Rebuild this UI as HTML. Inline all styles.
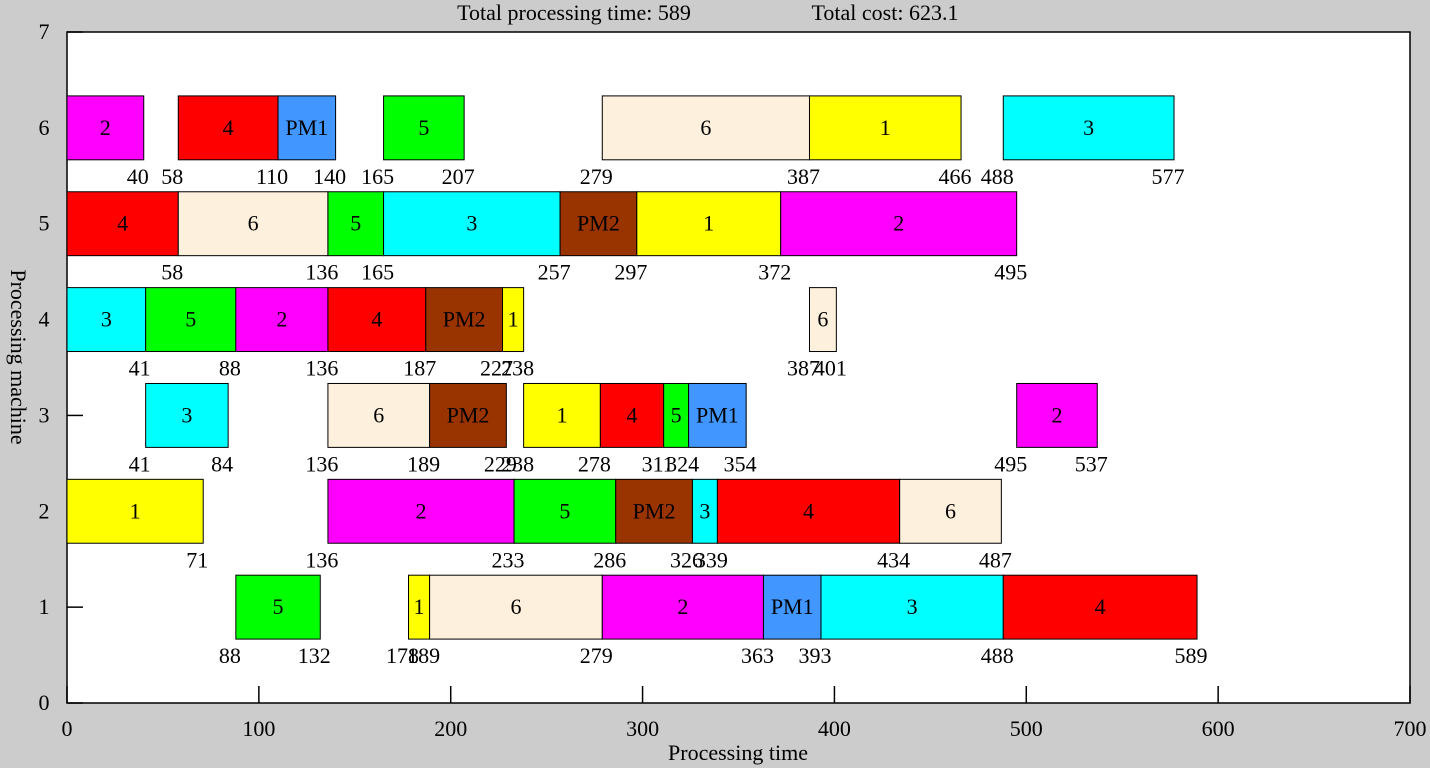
<!DOCTYPE html>
<html><head><meta charset="utf-8"><style>
body{margin:0;background:#cccccc;width:1430px;height:768px;overflow:hidden}
svg{display:block;font-family:"Liberation Serif",serif}
</style></head><body>
<svg id="chart" width="1430" height="768" xmlns="http://www.w3.org/2000/svg">
<rect x="0" y="0" width="1430" height="768" fill="#cccccc"/>
<rect x="67" y="32" width="1343" height="671" fill="#ffffff" stroke="#000" stroke-width="1.5"/>
<text x="574" y="20" font-size="22" text-anchor="middle">Total processing time: 589</text>
<text x="885" y="20" font-size="22" text-anchor="middle">Total cost: 623.1</text>
<text x="738" y="760" font-size="22" text-anchor="middle">Processing time</text>
<text x="0" y="0" font-size="22" text-anchor="middle" transform="translate(11,357) rotate(90)">Processing machine</text>
<g id="marks"></g>
</svg>
<script>
const machines = [6,6,6,6,6,6,6, 5,5,5,5,5,5,5, 4,4,4,4,4,4,4, 3,3,3,3,3,3,3,3, 2,2,2,2,2,2,2, 1,1,1,1,1,1,1];
const starts = [0,58,110,165,279,387,488, 0,58,136,165,257,297,372, 0,41,88,136,187,227,387, 41,136,189,238,278,311,324,495, 0,136,233,286,326,339,434, 88,178,189,279,363,393,488];
const ends = [40,110,140,207,387,466,577, 58,136,165,257,297,372,495, 41,88,136,187,227,238,401, 84,189,229,278,311,324,354,537, 71,233,286,326,339,434,487, 132,189,279,363,393,488,589];
const jobs = ["2","4","PM1","5","6","1","3", "4","6","5","3","PM2","1","2", "3","5","2","4","PM2","1","6", "3","6","PM2","1","4","5","PM1","2", "1","2","5","PM2","3","4","6", "5","1","6","2","PM1","3","4"];
const xTicks = [0,100,200,300,400,500,600,700];
const yTicks = [0,1,2,3,4,5,6,7];
const colors = {"1":"#ffff00","2":"#ff00ff","3":"#00ffff","4":"#ff0000","5":"#00ff00","6":"#fdf0dc","PM1":"#4196ff","PM2":"#993300"};
const X = v => 67 + v * 1343 / 700;
const Y = v => 703 - v * 671 / 7;
const NS = "http://www.w3.org/2000/svg";
const g = document.getElementById('marks');
function mk(tag, attrs, txt){const e=document.createElementNS(NS,tag);for(const k in attrs)e.setAttribute(k,attrs[k]);if(txt!==undefined)e.textContent=txt;g.appendChild(e);return e;}
xTicks.forEach(t=>{
  const l=mk('line',{x1:X(t),x2:X(t),y1:703,y2:686,stroke:'#000','stroke-width':1.5});
  
  
  const tx=mk('text',{x:X(t),y:736,'font-size':22,'text-anchor':'middle'},String(t));
  
  
});
yTicks.forEach(t=>{
  const l=mk('line',{x1:67,x2:83,y1:Y(t),y2:Y(t),stroke:'#000','stroke-width':1.5});
  
  
  const tx=mk('text',{x:44,y:Y(t)+7,'font-size':22,'text-anchor':'middle'},String(t));
  
  
});
const h = 671/7/3;
const labelSets = {};
for(let i=0;i<machines.length;i++){
  const m=machines[i];
  const r=mk('rect',{x:X(starts[i]),y:Y(m)-h,width:X(ends[i])-X(starts[i]),height:2*h,fill:colors[jobs[i]],stroke:'#000','stroke-width':1});
  
  
  const t=mk('text',{x:(X(starts[i])+X(ends[i]))/2,y:Y(m)+7,'font-size':22,'text-anchor':'middle'},jobs[i]);
  
  
  labelSets[m]=labelSets[m]||new Set();
  if(starts[i]!==0)labelSets[m].add(starts[i]);
  labelSets[m].add(ends[i]);
}
for(const m in labelSets){
  [...labelSets[m]].forEach(v=>{
    const t=mk('text',{x:X(v)-6,y:Y(+m)+56,'font-size':22,'text-anchor':'middle'},String(v));
    
    
  });
}
</script>
</body></html>
